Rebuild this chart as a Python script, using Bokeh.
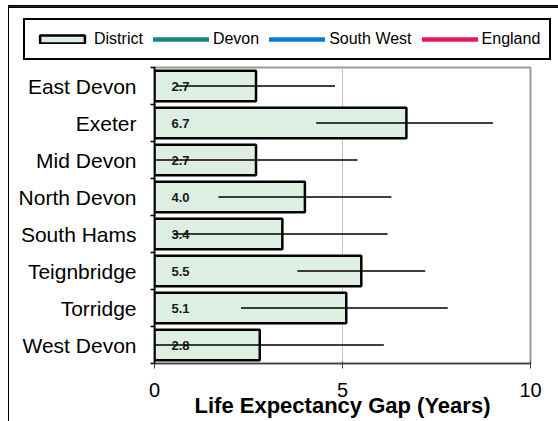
from bokeh.plotting import figure
from bokeh.layouts import column
from bokeh.models import Range1d, FixedTicker, Legend, LegendItem, ColumnDataSource
from bokeh.core.properties import value
from bokeh.embed import file_html
from bokeh.resources import INLINE

# ---- data ----
districts = ["East Devon", "Exeter", "Mid Devon", "North Devon",
             "South Hams", "Teignbridge", "Torridge", "West Devon"]
gap = [2.7, 6.7, 2.7, 4.0, 3.4, 5.5, 5.1, 2.8]
range_low = [0.6, 4.3, 0.0, 1.7, 0.5, 3.8, 2.3, 0.0]
range_high = [4.8, 9.0, 5.4, 6.3, 6.2, 7.2, 7.8, 6.1]
x_ticks = [0, 5, 10]
# comparator series appear only in the legend (no values shown in the chart)
devon_vals = [float("nan")]
south_west_vals = [float("nan")]
england_vals = [float("nan")]
series_names = ["District", "Devon", "South West", "England"]
series_colors = ["#ddeee2", "#16867f", "#0a7bd1", "#e8185c"]
x_title = "Life Expectancy Gap (Years)"

FONT = "Liberation Sans"
n = len(districts)
ypos = [n - 0.5 - i for i in range(n)]
labels = [f"{v:.1f}" for v in gap]
src = ColumnDataSource(dict(y=ypos, gap=gap, low=range_low, high=range_high,
                            lab=labels, zero=[0] * n))

# ---------- legend strip ----------
lg = figure(width=549, height=55, x_range=Range1d(0, 1), y_range=Range1d(-2, -1),
            output_backend="svg", toolbar_location=None,
            x_axis_type=None, y_axis_type=None,
            min_border_left=0, min_border_right=0, min_border_top=0, min_border_bottom=0)
lg.frame_align = False
lg.outline_line_color = None
lg.xgrid.visible = False
lg.ygrid.visible = False
l_bar = lg.hbar(y="y", right="gap", left=0, height=0.8, source=src,
                fill_color=series_colors[0], line_color="black", line_width=2.5)
l_dev = lg.line(x=devon_vals, y=devon_vals, line_color=series_colors[1],
                line_width=4.5, line_cap="round")
l_sw = lg.line(x=south_west_vals, y=south_west_vals, line_color=series_colors[2],
               line_width=4.5, line_cap="round")
l_en = lg.line(x=england_vals, y=england_vals, line_color=series_colors[3],
               line_width=4.5, line_cap="round")
legend = Legend(items=[LegendItem(label=series_names[0], renderers=[l_bar], index=0),
                       LegendItem(label=series_names[1], renderers=[l_dev]),
                       LegendItem(label=series_names[2], renderers=[l_sw]),
                       LegendItem(label=series_names[3], renderers=[l_en])],
                orientation="horizontal", location=(14, 1),
                label_text_font=FONT, label_text_font_size="16px",
                label_text_color="black",
                label_standoff=4, spacing=10, padding=9, margin=0,
                glyph_width=56, glyph_height=10, label_height=20,
                border_line_color="black", border_line_width=2, border_line_alpha=1,
                background_fill_color="white", background_fill_alpha=1)
lg.add_layout(legend)

# ---------- main chart ----------
p = figure(width=549, height=360, x_range=Range1d(0, 10), y_range=Range1d(0, n),
           output_backend="svg", toolbar_location=None,
           min_border_left=145, min_border_right=28,
           min_border_top=6, min_border_bottom=58)
p.background_fill_color = "white"
p.border_fill_color = "white"
p.outline_line_color = "#9a9a9a"
p.outline_line_width = 2

p.hbar(y="y", right="gap", left=0, height=0.82, source=src,
       fill_color=series_colors[0], line_color="black", line_width=2.5)
p.text(x="zero", y="y", text="lab", x_offset=17, source=src,
       text_font=value(FONT), text_font_size="13px", text_font_style="bold",
       text_baseline="middle", text_align="left", text_color="#1a1a1a")
p.segment(x0="low", x1="high", y0="y", y1="y", source=src,
          line_color="black", line_width=1.5)

# x axis
xa = p.xaxis[0]
xa.ticker = FixedTicker(ticks=x_ticks, minor_ticks=[])
xa.axis_line_color = "#404040"
xa.axis_line_width = 1.5
xa.major_tick_line_color = "#404040"
xa.major_tick_out = 5
xa.major_tick_in = 2
xa.major_label_standoff = 14
xa.major_label_text_font = FONT
xa.major_label_text_font_size = "20px"
xa.major_label_text_color = "black"
xa.axis_label = x_title
xa.axis_label_text_font = FONT
xa.axis_label_text_font_size = "22px"
xa.axis_label_text_font_style = "bold"
xa.axis_label_text_color = "black"
xa.axis_label_standoff = -7

# y axis
ya = p.yaxis[0]
ya.ticker = FixedTicker(ticks=ypos, minor_ticks=list(range(n + 1)))
ya.major_label_overrides = {y: d for y, d in zip(ypos, districts)}
ya.axis_line_color = "black"
ya.axis_line_width = 1.5
ya.major_tick_out = 0
ya.major_tick_in = 0
ya.major_tick_line_color = None
ya.minor_tick_out = 4
ya.minor_tick_in = 1
ya.minor_tick_line_color = "black"
ya.minor_tick_line_width = 1.5
ya.major_label_standoff = 14
ya.major_label_text_font = FONT
ya.major_label_text_font_size = "21px"
ya.major_label_text_color = "black"

p.xgrid.grid_line_color = "#c4c4c4"
p.xgrid.grid_line_width = 1
p.ygrid.visible = False

page = column(lg, p, spacing=0)
page.styles = {"margin-left": "8px", "margin-top": "5px",
               "border-left": "1px solid #000000", "border-top": "1px solid #000000"}

open("out.html", "w").write(file_html(page, INLINE))
